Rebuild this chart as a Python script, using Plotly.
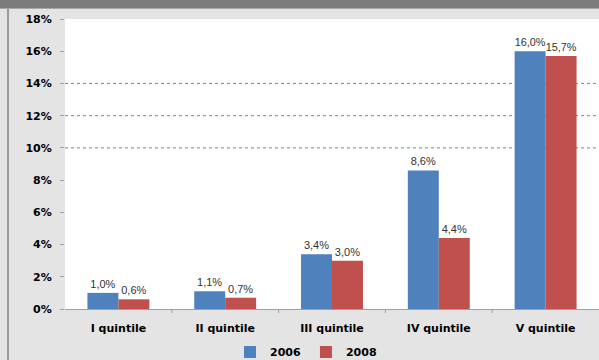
import plotly.graph_objects as go

categories = ["I quintile", "II quintile", "III quintile", "IV quintile", "V quintile"]
values_2006 = [1.0, 1.1, 3.4, 8.6, 16.0]
values_2008 = [0.6, 0.7, 3.0, 4.4, 15.7]
y_ticks = [0, 2, 4, 6, 8, 10, 12, 14, 16, 18]
grid_levels = [10, 12, 14]

BLUE = "#4F81BD"
RED = "#C0504D"
BG = "#E4E4E4"

W, H = 599, 360
L, R, T, B = 65, 0, 19, 51
pw, ph = W - L - R, H - T - B


def px_x(x):
    return (x - L) / pw


def px_y(y):
    return 1 - (y - T) / ph


def pct(v):
    return f"{v:.1f}".replace(".", ",") + "%"


label_font = dict(family="Liberation Sans, Arial, sans-serif", size=11, color="#333333")

fig = go.Figure()
fig.add_trace(go.Bar(
    name="2006", x=categories, y=values_2006, marker=dict(color=BLUE, line=dict(width=0)),
    text=[pct(v) for v in values_2006], textposition="outside", textfont=label_font,
    cliponaxis=False,
))
fig.add_trace(go.Bar(
    name="2008", x=categories, y=values_2008, marker=dict(color=RED, line=dict(width=0)),
    text=[pct(v) for v in values_2008], textposition="outside", textfont=label_font,
    cliponaxis=False,
))

shapes = []
for g in grid_levels:
    shapes.append(dict(type="line", xref="paper", yref="y", x0=0, x1=1, y0=g, y1=g,
                       line=dict(color="#5E86C8", width=1, dash="dot"), layer="below"))
# window chrome: dark title strip and left border line
shapes.append(dict(type="rect", xref="paper", yref="paper", x0=px_x(0), x1=px_x(W),
                   y0=px_y(8), y1=px_y(0), fillcolor="#7B7B7B", line=dict(width=0)))
shapes.append(dict(type="line", xref="paper", yref="paper", x0=px_x(0), x1=px_x(W),
                   y0=px_y(8.5), y1=px_y(8.5), line=dict(color="#A8A8A8", width=1)))
shapes.append(dict(type="line", xref="paper", yref="paper", x0=px_x(8), x1=px_x(8),
                   y0=px_y(H), y1=px_y(9), line=dict(color="#9A9A9A", width=2)))

bold = dict(family="DejaVu Sans, Arial, sans-serif", size=11, color="#000000", weight="bold")

fig.update_layout(
    width=W, height=H,
    margin=dict(l=L, r=R, t=T, b=B, pad=0, autoexpand=False),
    paper_bgcolor=BG, plot_bgcolor="#FFFFFF",
    barmode="group", bargap=0.42, bargroupgap=0,
    separators=",.",
    showlegend=True,
    legend=dict(orientation="h", x=px_x(306), xanchor="center", y=px_y(352), yanchor="middle",
                font=dict(family="DejaVu Sans, Arial, sans-serif", size=11, color="#000000",
                          weight="bold"),
                itemwidth=30, bgcolor="rgba(0,0,0,0)", traceorder="normal"),
    shapes=shapes,
    xaxis=dict(showgrid=False, showline=True, linecolor="#A0A0A0", linewidth=1,
               ticks="", tickfont=bold, fixedrange=True, ticklabelstandoff=9),
    yaxis=dict(range=[0, 18], tickvals=y_ticks, ticktext=[f"{v}%" for v in y_ticks],
               showgrid=False, zeroline=False, showline=False,
               ticks="outside", ticklen=4, tickcolor="#A0A0A0",
               tickfont=bold, fixedrange=True, ticklabelstandoff=6),
)

# category separators on the category axis
for i in range(1, len(categories)):
    fig.add_shape(type="line", xref="x", yref="paper", x0=i - 0.5, x1=i - 0.5,
                  y0=0, y1=px_y(T + ph + 4), line=dict(color="#A0A0A0", width=1))

fig.write_html("out.html")
